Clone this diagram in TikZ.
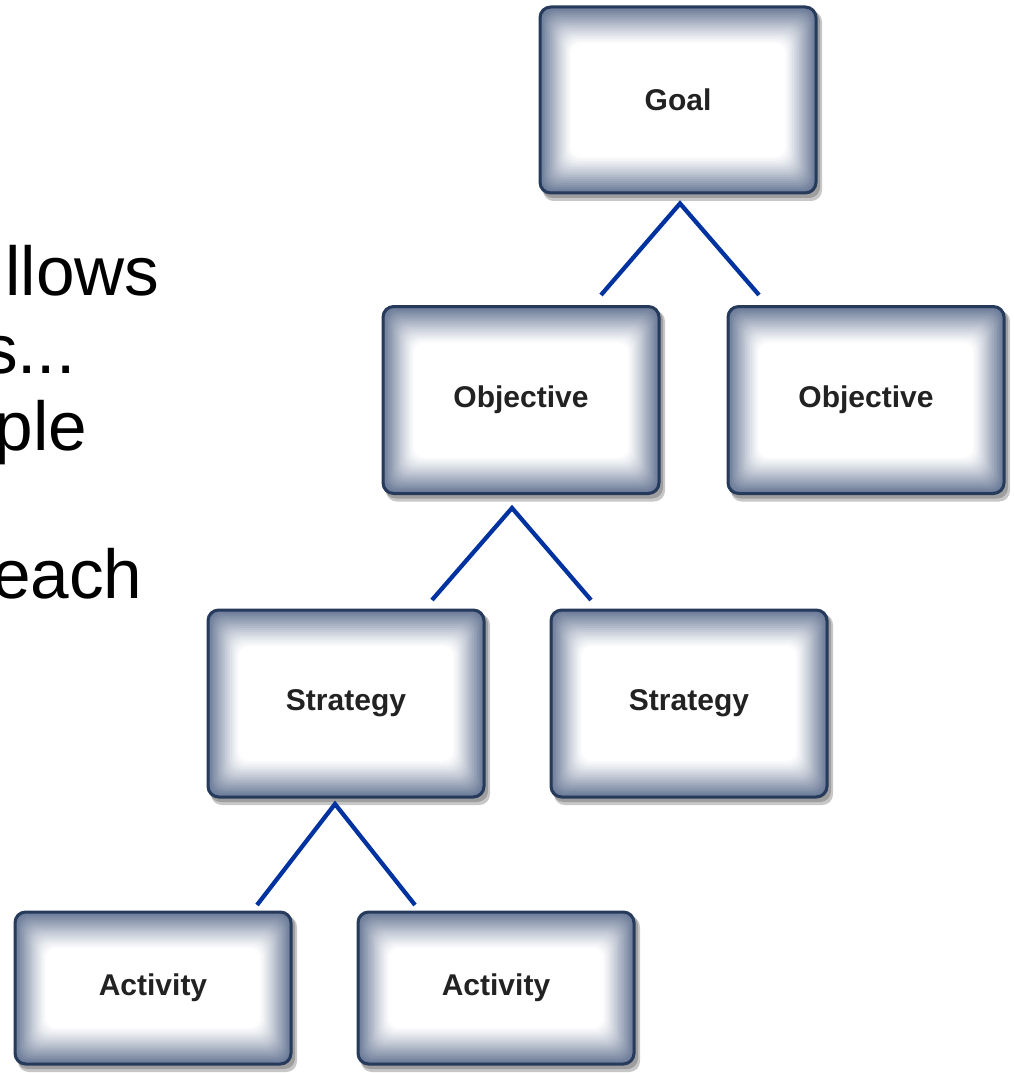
\documentclass[tikz,border=0pt]{standalone}
\usepackage{fontspec}
\setmainfont{Liberation Sans}
\usetikzlibrary{calc}

\definecolor{boxedge}{RGB}{38,58,92}
\definecolor{boxshade}{RGB}{104,120,150}
\definecolor{forkblue}{RGB}{0,51,160}
\definecolor{labelgrey}{RGB}{34,34,34}

\tikzset{every picture/.style={line width=0.75pt}}
\tikzset{
  levelbox/.style={draw=boxedge, line width=2.25pt, rounded corners=8pt, minimum width=207pt, minimum height=140.25pt, inner sep=0pt, font=\fontsize{22.5}{26}\selectfont\bfseries, text=labelgrey},
  fork/.style={draw=forkblue, line width=3.2pt},
  slidetext/.style={anchor=base east, inner sep=0pt, font=\fontsize{52}{60}\selectfont}
}

% shadow and soft fill behind one box: centre x, centre y, half width, half height
\newcommand{\boxbackdrop}[4]{%
  \fill[black!22, rounded corners=8pt] (#1-#3+3,#2-#4+4) rectangle (#1+#3+6,#2+#4+8);
  \fill[black!38, rounded corners=8pt] (#1-#3+2,#2-#4+3) rectangle (#1+#3+4,#2+#4+5);
  \foreach \k in {0,...,18}{
    \pgfmathsetmacro{\mix}{100*(1-\k/18)^1.15}
    \fill[boxshade!\mix!white, rounded corners=8pt] (#1-#3+1.7*\k,#2-#4+2*\k) rectangle (#1+#3-1.7*\k,#2+#4-2*\k);
  }
}

\begin{document}
\begin{tikzpicture}[x=0.75pt,y=0.75pt,yscale=-1,xscale=1]
\useasboundingbox (0,0) rectangle (1013,1073);
\clip (0,0) rectangle (1013,1073);

% Text Node
\node (txtA) [slidetext] at (160,295) {llows};
% Text Node
\node (txtB) [slidetext] at (76,373) {s...};
% Text Node
\node (txtC) [slidetext] at (88,450) {ple};
% Text Node
\node (txtD) [slidetext] at (143,598) {each};

% Boxes
\foreach \cx/\cy/\hh/\nm/\lbl in {678/100/93/goal/Goal, 521/400/93.5/objA/Objective, 866/400/93.5/objB/Objective, 346/703.5/93.5/stratA/Strategy, 689/703.5/93.5/stratB/Strategy, 153/988/76/actA/Activity, 496/988/76/actB/Activity}{
  \boxbackdrop{\cx}{\cy}{138}{\hh}
  \node (\nm) [levelbox, minimum height=1.5*\hh pt] at (\cx,\cy) {\lbl};
}

% fork ends
\coordinate (goalfork) at ($(goal.south)+(2,9)$);
\coordinate (objAtop) at (601,295);
\coordinate (objBtop) at (759,295);
\coordinate (objAfork) at ($(objA.south)+(-9,13)$);
\coordinate (stratAtop) at (432,600);
\coordinate (stratBtop) at (591,600);
\coordinate (stratAfork) at ($(stratA.south)+(-11,5.5)$);
\coordinate (actAtop) at (257,905);
\coordinate (actBtop) at (415,905);

%Straight Lines
\draw [fork] (objAtop) -- (goalfork) -- (objBtop);
%Straight Lines
\draw [fork] (stratAtop) -- (objAfork) -- (stratBtop);
%Straight Lines
\draw [fork] (actAtop) -- (stratAfork) -- (actBtop);

\end{tikzpicture}
\end{document}
